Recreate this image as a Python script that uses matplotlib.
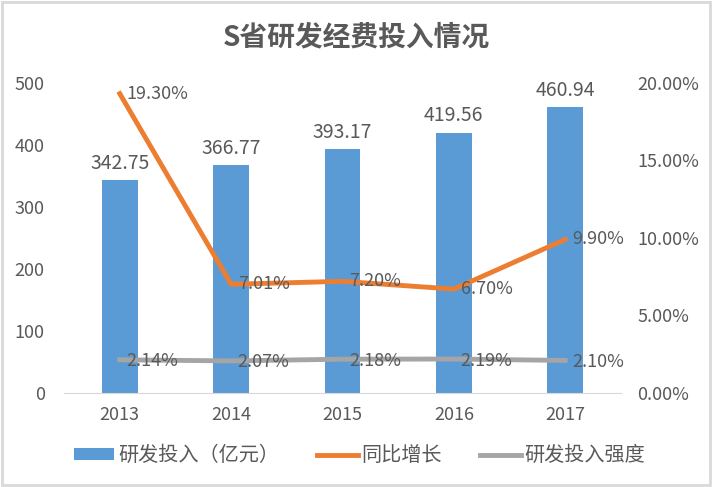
import matplotlib.pyplot as plt
from matplotlib.patches import Rectangle
from matplotlib.ticker import FuncFormatter

plt.rcParams['font.family'] = ['Noto Sans CJK SC', 'DejaVu Sans']

years = ['2013', '2014', '2015', '2016', '2017']
invest = [342.75, 366.77, 393.17, 419.56, 460.94]      # 亿元
growth = [19.30, 7.01, 7.20, 6.70, 9.90]               # %
intensity = [2.14, 2.07, 2.18, 2.19, 2.10]             # %

txt = '#595959'
fig = plt.figure(figsize=(7.12, 4.87), dpi=100)
ax = fig.add_axes([0.09, 0.193, 0.782, 0.637])
ax2 = ax.twinx()

x = range(len(years))
bars = ax.bar(x, invest, width=0.32, color='#5B9BD5', label='研发投入（亿元）', zorder=2)
for xi, v in zip(x, invest):
    ax.text(xi, v + 10, '%.2f' % v, ha='center', va='bottom', fontsize=14, color=txt)

l1, = ax2.plot(x, growth, color='#ED7D31', lw=3.5, label='同比增长', zorder=3)
l2, = ax2.plot(x, intensity, color='#A5A5A5', lw=3.5, label='研发投入强度', zorder=3)
for xi, v in zip(x, growth):
    ax2.text(xi + 0.06, v, '%.2f%%' % v, ha='left', va='center', fontsize=13, color=txt)
for xi, v in zip(x, intensity):
    ax2.text(xi + 0.06, v - 0.1, '%.2f%%' % v, ha='left', va='center', fontsize=13, color=txt)

ax.set_xlim(-0.5, 4.5)
ax.set_ylim(0, 500)
ax2.set_ylim(0, 20)
ax.set_xticks(list(x))
ax.set_xticklabels(years)
ax.set_yticks([0, 100, 200, 300, 400, 500])
ax2.set_yticks([0, 5, 10, 15, 20])
ax2.yaxis.set_major_formatter(FuncFormatter(lambda v, p: '%.2f%%' % v))

for a in (ax, ax2):
    for s in ['top', 'left', 'right', 'bottom']:
        a.spines[s].set_visible(False)
    a.tick_params(length=0, labelsize=13, colors=txt)
ax.spines['bottom'].set_visible(True)
ax.spines['bottom'].set_color('#D9D9D9')
ax.tick_params(axis='x', pad=9)
ax.tick_params(axis='y', pad=14)
ax2.tick_params(axis='y', pad=12)

fig.text(0.5, 0.923, 'S省研发经费投入情况', ha='center', va='center',
         fontsize=20, fontweight='bold', color=txt)
fig.legend(handles=[bars, l1, l2], loc='center', bbox_to_anchor=(0.505, 0.064),
           ncol=3, frameon=False, fontsize=14.5, labelcolor=txt,
           handlelength=2.0, handleheight=0.5, handletextpad=0.2, columnspacing=1.9)

fig.patches.append(Rectangle((0.003, 0.004), 0.994, 0.992, transform=fig.transFigure,
                             fill=False, edgecolor='#D9D9D9', lw=2))
fig.savefig('out.png', dpi=100)
